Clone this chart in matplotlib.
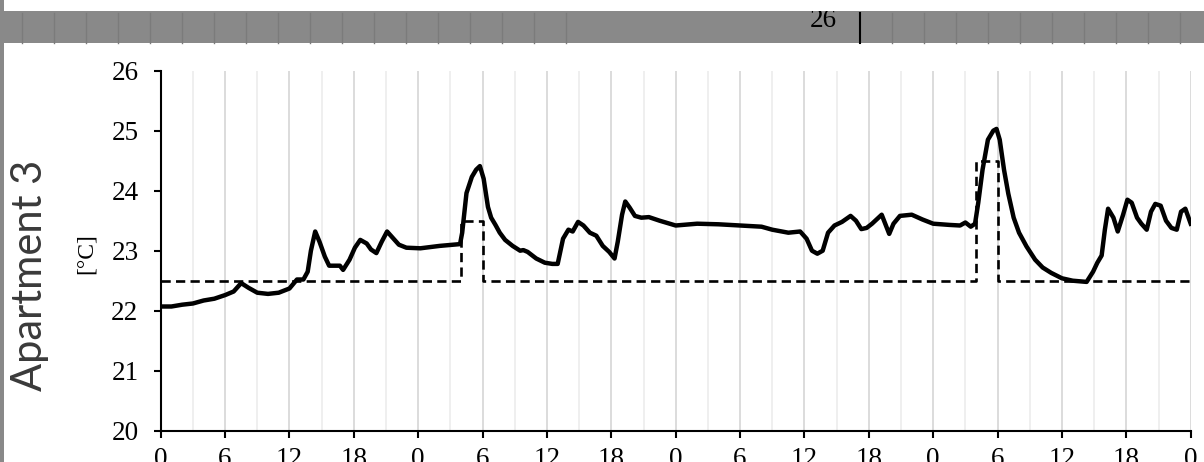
import matplotlib.pyplot as plt
from matplotlib.patches import Rectangle

# -----------------------------
# DATA
# -----------------------------
hours = [0.0, 1.0, 2.0, 3.0, 4.0, 5.0, 6.0, 6.8, 7.5, 8.2, 9.0, 10.0, 11.0, 12.0,
         12.7, 13.3, 13.7, 14.0, 14.4, 14.8, 15.3, 15.7, 16.7, 17.0, 17.6, 18.1,
         18.6, 19.2, 19.6, 20.1, 20.6, 21.1, 21.6, 22.2, 22.9, 24.2, 26.0, 27.9,
         28.1, 28.5, 29.0, 29.4, 29.75, 30.1, 30.5, 30.8, 31.2, 31.6, 32.1, 32.8,
         33.5, 33.8, 34.2, 35.0, 35.8, 36.5, 37.0, 37.5, 38.0, 38.4, 38.9, 39.4,
         40.0, 40.6, 41.2, 41.8, 42.3, 42.6, 43.0, 43.3, 43.7, 44.2, 44.8, 45.5,
         46.5, 48.0, 50.0, 52.0, 54.0, 56.0, 57.0, 58.5, 59.6, 60.2, 60.7, 61.2,
         61.7, 62.2, 62.8, 63.5, 64.3, 64.8, 65.3, 65.8, 66.3, 66.9, 67.2, 67.6,
         67.9, 68.3, 68.9, 70.0, 71.0, 72.0, 73.5, 74.5, 75.0, 75.5, 75.9, 76.2,
         76.6, 77.1, 77.6, 77.9, 78.2, 78.6, 79.0, 79.5, 80.0, 80.7, 81.5, 82.2,
         83.0, 84.0, 85.0, 86.3, 86.9, 87.3, 87.7, 88.0, 88.3, 88.8, 89.2, 89.7,
         90.1, 90.5, 91.0, 91.4, 91.9, 92.3, 92.7, 93.2, 93.7, 94.2, 94.7, 95.1,
         95.5, 96.0]
indoor_temp = [22.07, 22.07, 22.10, 22.12, 22.17, 22.20, 22.26, 22.32, 22.46, 22.38,
               22.30, 22.28, 22.30, 22.37, 22.52, 22.52, 22.65, 23.00, 23.32, 23.15,
               22.90, 22.75, 22.75, 22.68, 22.85, 23.05, 23.18, 23.12, 23.02, 22.96,
               23.15, 23.32, 23.22, 23.10, 23.05, 23.04, 23.08, 23.11, 23.30, 23.96,
               24.23, 24.35, 24.41, 24.20, 23.73, 23.55, 23.43, 23.30, 23.18, 23.08,
               23.00, 23.01, 22.98, 22.87, 22.80, 22.78, 22.78, 23.20, 23.35, 23.32,
               23.48, 23.42, 23.30, 23.25, 23.08, 22.98, 22.87, 23.15, 23.60, 23.82,
               23.72, 23.58, 23.55, 23.56, 23.50, 23.42, 23.45, 23.44, 23.42, 23.40,
               23.35, 23.30, 23.32, 23.20, 23.00, 22.95, 23.00, 23.30, 23.42, 23.48,
               23.58, 23.50, 23.36, 23.38, 23.45, 23.55, 23.60, 23.42, 23.28, 23.45,
               23.58, 23.60, 23.52, 23.45, 23.43, 23.42, 23.47, 23.40, 23.45, 23.80,
               24.35, 24.85, 25.00, 25.03, 24.85, 24.35, 23.95, 23.55, 23.30, 23.07,
               22.85, 22.72, 22.63, 22.54, 22.50, 22.48, 22.65, 22.80, 22.92, 23.35,
               23.70, 23.55, 23.32, 23.60, 23.85, 23.80, 23.55, 23.45, 23.35, 23.65,
               23.78, 23.75, 23.50, 23.38, 23.35, 23.65, 23.70, 23.45]

setpoint_hours = [0, 28, 30, 76, 78, 96]
setpoint_temp = [22.5, 23.5, 22.5, 24.5, 22.5, 22.5]

xtick_pos = list(range(0, 97, 6))
xtick_labels = ["0", "6", "12", "18"] * 4 + ["0"]
ytick_pos = [20, 21, 22, 23, 24, 25, 26]

W, H = 1204, 462
fig = plt.figure(figsize=(W / 100, H / 100), dpi=100)

# -----------------------------
# BACKGROUND DECORATION (cropped neighbour panels)
# -----------------------------
bg = fig.add_axes([0, 0, 1, 1], zorder=0)
bg.set_xlim(0, W)
bg.set_ylim(H, 0)
bg.axis("off")
bg.add_patch(Rectangle((0, 11), W, 32, color="#898989", lw=0))
bg.add_patch(Rectangle((0, 0), 4, H, color="#898989", lw=0))
for x in range(22, 580, 32):
    bg.plot([x, x], [13, 43], color="#7b7b7b", lw=1.0)
for x in range(892, W, 32):
    bg.plot([x, x], [13, 43], color="#7b7b7b", lw=1.0)
bg.plot([860, 860], [13, 43], color="black", lw=1.5)
bg.text(837, 27, "26", ha="right", va="baseline", fontsize=19.5,
        family="Liberation Serif", color="black")
bg.add_patch(Rectangle((4, 0), W, 11, color="white", lw=0, zorder=5))
bg.text(30, 275, "Apartment 3", rotation=90, ha="center", va="center",
        fontsize=30, family="Lato", color="#3a3a3a")
bg.text(86, 254, "[°C]", rotation=90, ha="center", va="center",
        fontsize=17, family="Liberation Serif", color="black")

# -----------------------------
# MAIN PLOT
# -----------------------------
ax = fig.add_axes([160.7 / W, 31.3 / H, 1030 / W, 360 / H], zorder=1)
ax.patch.set_alpha(0)

for h in range(3, 97, 3):
    col = "#d9d9d9" if h % 6 == 0 else "#eeeeee"
    ax.axvline(h, color=col, lw=1.3, zorder=0)

ax.plot(setpoint_hours, setpoint_temp, drawstyle="steps-post", color="black",
        lw=1.9, dashes=(3.5, 2.0), zorder=2)
ax.plot(hours, indoor_temp, color="black", lw=3.2, solid_joinstyle="round", zorder=3)

ax.set_xlim(0, 96)
ax.set_ylim(20, 26)
ax.set_xticks(xtick_pos)
ax.set_xticklabels(xtick_labels)
ax.set_yticks(ytick_pos)

for s in ["top", "right"]:
    ax.spines[s].set_visible(False)
for s in ["left", "bottom"]:
    ax.spines[s].set_linewidth(1.5)

ax.tick_params(axis="both", direction="out", length=5, width=1.5, labelsize=19.5)
ax.tick_params(axis="y", pad=11)
ax.tick_params(axis="x", pad=6.5)
for lab in ax.get_xticklabels() + ax.get_yticklabels():
    lab.set_family("Liberation Serif")

fig.savefig("out.png", dpi=100)
